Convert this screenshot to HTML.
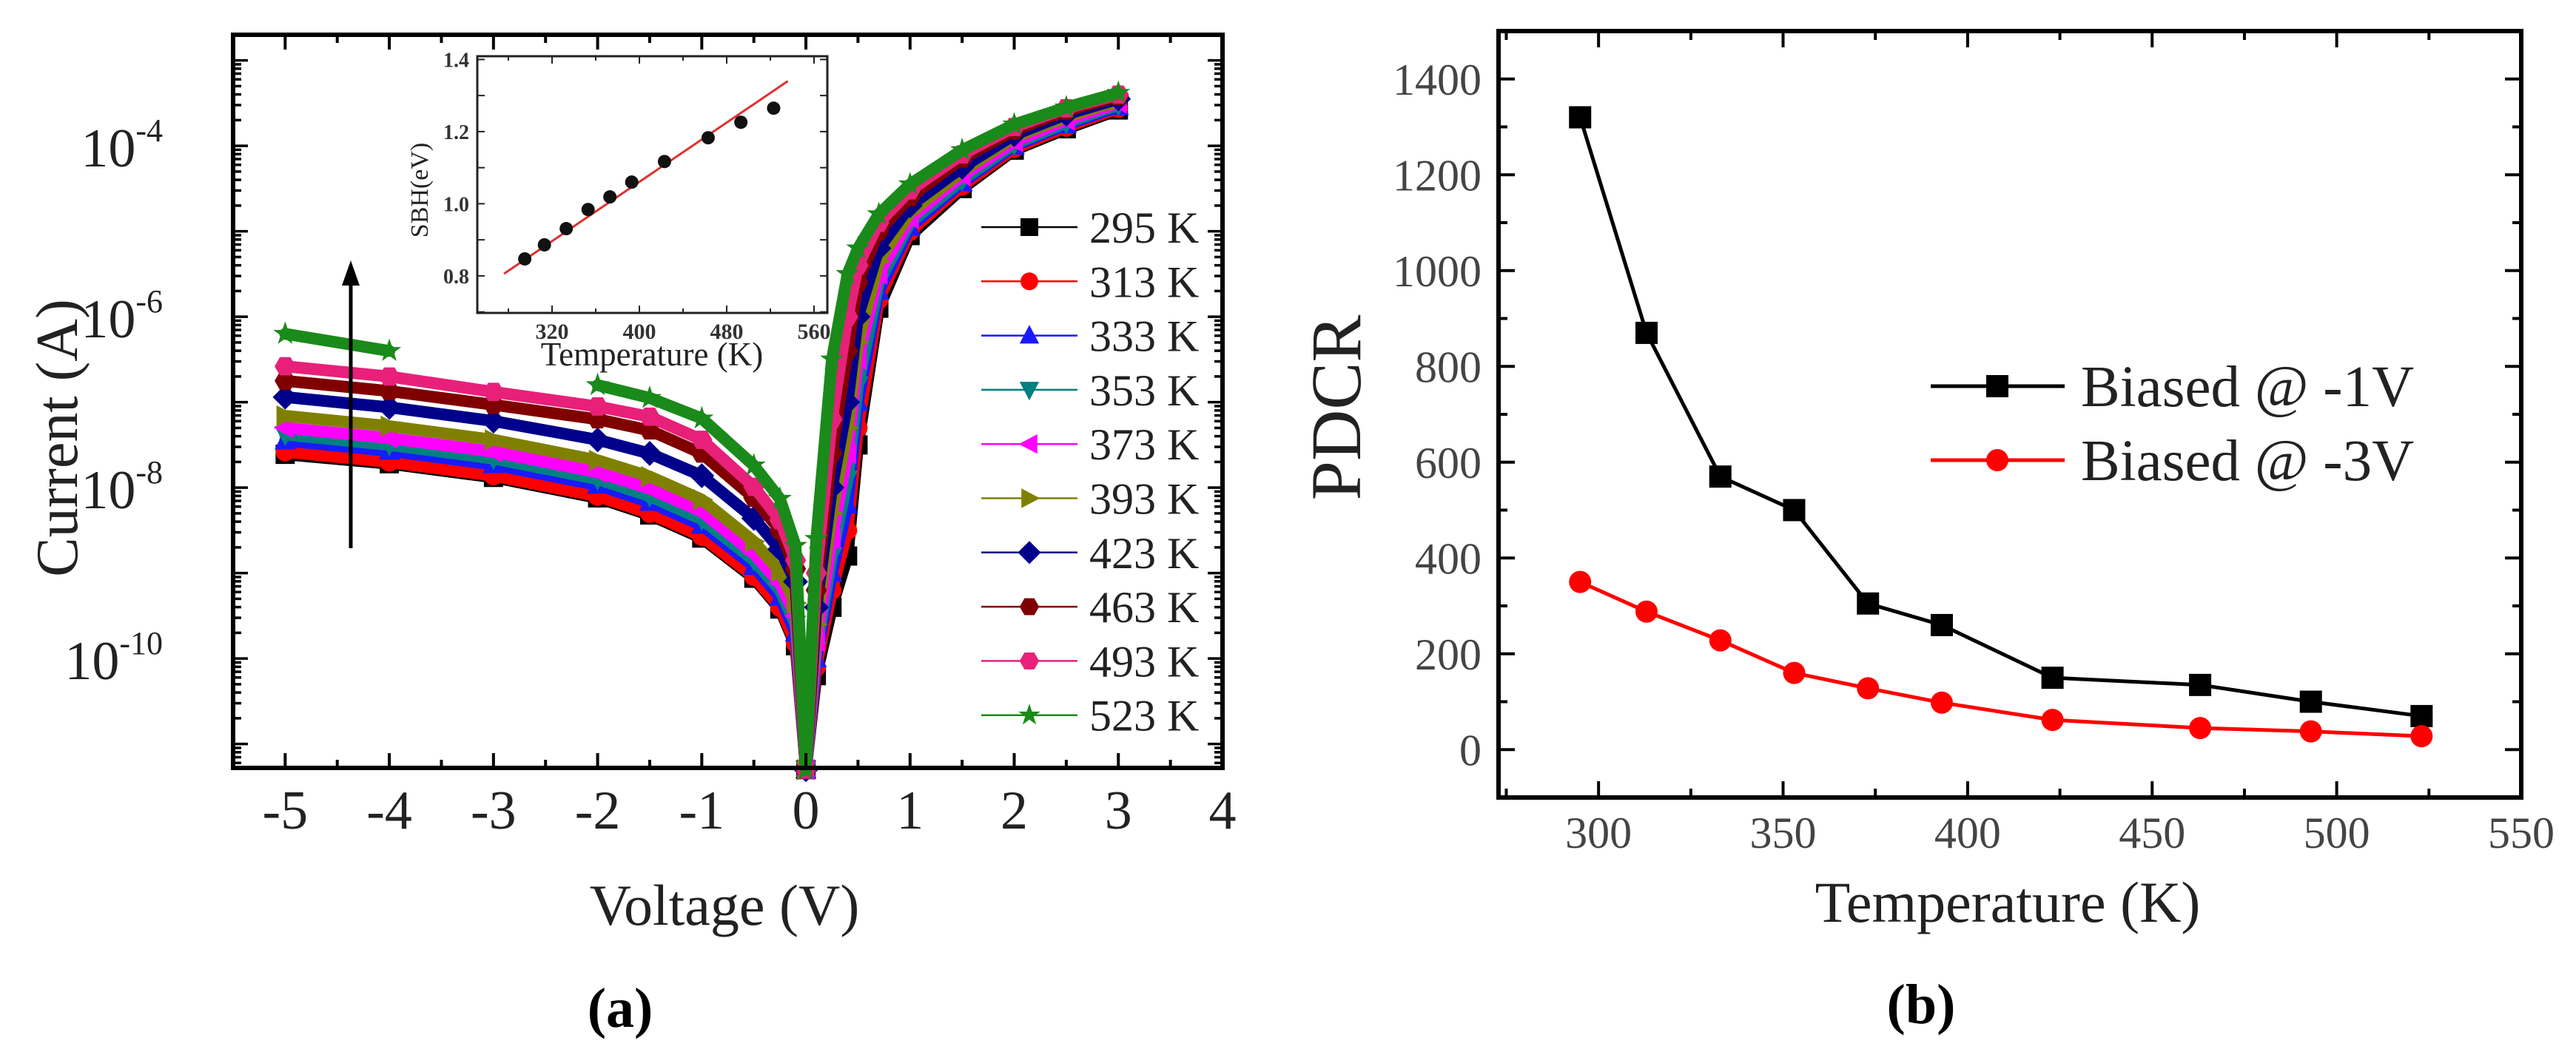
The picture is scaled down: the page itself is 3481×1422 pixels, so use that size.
<!DOCTYPE html>
<html><head><meta charset="utf-8"><style>
html,body{margin:0;padding:0;background:#fff;}
svg{display:block;font-family:"Liberation Serif",serif;}
</style></head><body>
<svg id="fig" width="3481" height="1422" viewBox="0 0 3481 1422">
<g id="left"></g>
<g id="inset"></g>
<g id="right"></g>
</svg>
<script>
// ---------- Panel (a) data ----------
const ivVoltages = [-5,-4,-3,-2,-1.5,-1,-0.5,-0.25,-0.1,0,0.1,0.25,0.4,0.5,0.7,1,1.5,2,2.5,3];
const ivTemps = ["295 K","313 K","333 K","353 K","373 K","393 K","423 K","463 K","493 K","523 K"];
const iv295 = [-7.61,-7.72,-7.88,-8.12,-8.32,-8.59,-9.06,-9.42,-9.85,-11.3,-10.2,-9.4,-8.8,-7.5,-5.9,-5.05,-4.5,-4.05,-3.8,-3.58];
const iv313 = [-7.58,-7.70,-7.86,-8.10,-8.30,-8.57,-9.04,-9.40,-9.82,-11.3,-10.1,-9.2,-8.5,-7.3,-5.8,-5.0,-4.47,-4.03,-3.78,-3.56];
const iv333 = [-7.45,-7.57,-7.73,-7.97,-8.17,-8.44,-8.92,-9.28,-9.7,-11.3,-10.0,-9.0,-8.2,-7.0,-5.7,-4.95,-4.43,-4.0,-3.75,-3.54];
const iv353 = [-7.38,-7.5,-7.66,-7.9,-8.1,-8.37,-8.85,-9.2,-9.6,-11.3,-9.9,-8.8,-7.9,-6.8,-5.6,-4.9,-4.4,-3.98,-3.73,-3.52];
const iv373 = [-7.3,-7.42,-7.58,-7.82,-8.01,-8.28,-8.77,-9.12,-9.5,-11.3,-9.8,-8.6,-7.6,-6.5,-5.5,-4.85,-4.35,-3.95,-3.7,-3.5];
const iv393 = [-7.16,-7.28,-7.44,-7.68,-7.87,-8.14,-8.63,-8.98,-9.35,-11.3,-9.6,-8.3,-7.3,-6.3,-5.35,-4.78,-4.3,-3.9,-3.66,-3.47];
const iv423 = [-6.94,-7.06,-7.22,-7.44,-7.6,-7.86,-8.36,-8.72,-9.1,-11.3,-9.4,-8.0,-7.0,-6.0,-5.2,-4.7,-4.25,-3.87,-3.63,-3.45];
const iv463 = [-6.75,-6.87,-7.03,-7.2,-7.33,-7.6,-8.12,-8.5,-8.95,-11.3,-9.2,-7.6,-6.4,-5.6,-5.0,-4.6,-4.15,-3.82,-3.59,-3.42];
const iv493 = [-6.58,-6.7,-6.88,-7.05,-7.17,-7.44,-7.99,-8.38,-8.85,-11.3,-9.0,-7.2,-6.0,-5.4,-4.9,-4.52,-4.1,-3.78,-3.56,-3.4];
const iv523 = [-6.2,-6.4,null,-6.8,-6.95,-7.19,-7.74,-8.13,-8.68,-11.3,-8.6,-6.5,-5.5,-5.2,-4.8,-4.45,-4.05,-3.75,-3.55,-3.38];
const ivXTicks = [-5,-4,-3,-2,-1,0,1,2,3,4];
const ivYTicks = [-10,-8,-6,-4];
// inset
const sbhTemps = [295,313,333,353,373,393,423,463,493,523];
const sbhValues = [0.847,0.886,0.931,0.984,1.019,1.06,1.117,1.183,1.226,1.265];
const sbhFitT = [276,536];
const sbhFitV = [0.806,1.34];
const sbhXTicks = [320,400,480,560];
const sbhYTicks = [0.8,1.0,1.2,1.4];
// ---------- Panel (b) data ----------
const pdcrTemps = [295,313,333,353,373,393,423,463,493,523];
const pdcrMinus1V = [1320,870,570,500,305,260,150,135,100,70];
const pdcrMinus3V = [350,288,228,160,128,98,62,45,38,28];
const pdcrXTicks = [300,350,400,450,500,550];
const pdcrYTicks = [0,200,400,600,800,1000,1200,1400];

const NS="http://www.w3.org/2000/svg";
function mk(parent,tag,attrs,text){const e=document.createElementNS(NS,tag);for(const k in attrs)e.setAttribute(k,attrs[k]);if(text!==undefined)e.textContent=text;parent.appendChild(e);return e;}

// ===== Panel (a) =====
const L=document.getElementById('left');
const aL=315,aR=1652,aT=47,aB=1038;
const xMinA=-5.5,xMaxA=4, yMinA=-11.28,yMaxA=-2.70;
const xA=v=>aL+(v-xMinA)/(xMaxA-xMinA)*(aR-aL);
const yA=l=>aB-(l-yMinA)/(yMaxA-yMinA)*(aB-aT);
const ivSeries=[iv295,iv313,iv333,iv353,iv373,iv393,iv423,iv463,iv493,iv523];
const ivColors=["#000000","#ff0000","#1a1aff","#008080","#ff00ff","#808000","#00008b","#800000","#e8207a","#1a8a1a"];
const ivShapes=["square","circle","up","down","left","right","diamond","hex","hex","star"];

function marker(g,shape,cx,cy,r,color){
  let e;
  if(shape==="square") e=mk(g,'rect',{x:cx-r,y:cy-r,width:2*r,height:2*r,fill:color});
  else if(shape==="circle") e=mk(g,'circle',{cx:cx,cy:cy,r:r,fill:color});
  else {
    let pts=[];
    if(shape==="up") pts=[[0,-1.2],[1.1,0.9],[-1.1,0.9]];
    else if(shape==="down") pts=[[0,1.2],[1.1,-0.9],[-1.1,-0.9]];
    else if(shape==="left") pts=[[-1.2,0],[0.9,-1.1],[0.9,1.1]];
    else if(shape==="right") pts=[[1.2,0],[-0.9,-1.1],[-0.9,1.1]];
    else if(shape==="diamond") pts=[[0,-1.3],[1.3,0],[0,1.3],[-1.3,0]];
    else if(shape==="hex"){for(let i=0;i<6;i++){const a=Math.PI/3*i;pts.push([Math.cos(a)*1.1,Math.sin(a)*1.1]);}}
    else if(shape==="star"){for(let i=0;i<10;i++){const a=-Math.PI/2+Math.PI/5*i;const rr=i%2?0.5:1.3;pts.push([Math.cos(a)*rr,Math.sin(a)*rr]);}}
    e=mk(g,'polygon',{points:pts.map(p=>(cx+p[0]*r)+','+(cy+p[1]*r)).join(' '),fill:color});
  }
  return e;
}

// series
ivSeries.forEach((s,si)=>{
  const g=mk(L,'g',{});
  
  
  let segs=[],cur=[];
  s.forEach((v,i)=>{ if(v===null){ if(cur.length) segs.push(cur); cur=[]; } else cur.push([xA(ivVoltages[i]),yA(v)]); });
  if(cur.length) segs.push(cur);
  segs.forEach(seg=>{ const p=mk(g,'polyline',{points:seg.map(q=>q.join(',')).join(' '),fill:'none',stroke:ivColors[si],'stroke-width':16,'stroke-linejoin':'round','stroke-linecap':'round'});
      });
  s.forEach((v,i)=>{ if(v===null) return; const m=marker(g,ivShapes[si],xA(ivVoltages[i]),yA(v),13,ivColors[si]);
      });
});

// frame
const fa=mk(L,'rect',{x:aL,y:aT,width:aR-aL,height:aB-aT,fill:'none',stroke:'#000','stroke-width':6});
 
// x ticks
for(let v=-5.5;v<=4.01;v+=0.5){
  const major=Math.abs(v-Math.round(v))<1e-6; const len=major?20:11; const x=xA(v);
  mk(L,'line',{x1:x,y1:aB,x2:x,y2:aB-len,stroke:'#000','stroke-width':4});
  mk(L,'line',{x1:x,y1:aT,x2:x,y2:aT+len,stroke:'#000','stroke-width':4});
}
ivXTicks.forEach(v=>{const t=mk(L,'text',{x:xA(v),y:1120,'font-size':74,'text-anchor':'middle',fill:'#222'},v);
   });
// y ticks (log)
for(let d=-12;d<=-2;d++){
  for(let k=1;k<=9;k++){
    const l=d+Math.log10(k); if(l<yMinA||l>yMaxA) continue;
    const y=yA(l); const len=k===1?20:11;
    mk(L,'line',{x1:aL,y1:y,x2:aL+len,y2:y,stroke:'#000','stroke-width':3.5});
    mk(L,'line',{x1:aR,y1:y,x2:aR-len,y2:y,stroke:'#000','stroke-width':3.5});
  }
}
ivYTicks.forEach(v=>{const t=mk(L,'text',{x:220,y:yA(v)+28,'font-size':74,'text-anchor':'end',fill:'#222'});
  t.appendChild(document.createTextNode('10'));
  const ts=mk(t,'tspan',{dy:-34,'font-size':44},String(v));
   });
let t;
t=mk(L,'text',{x:0,y:0,'font-size':80,'text-anchor':'middle',transform:'translate(104,592) rotate(-90)',fill:'#222'},'Current (A)');
 
t=mk(L,'text',{x:979,y:1250,'font-size':78,'text-anchor':'middle',fill:'#222'},'Voltage (V)');
 
t=mk(L,'text',{x:838,y:1388,'font-size':76,'font-weight':'bold','text-anchor':'middle'},'(a)');
 
// arrow
const ar=mk(L,'g',{});  
mk(ar,'line',{x1:474,y1:741,x2:474,y2:380,stroke:'#000','stroke-width':5});
mk(ar,'polygon',{points:'474,352 462,386 486,386',fill:'#000'});
// legend
ivTemps.forEach((lab,i)=>{
  const y=307+i*73.3;
  const g=mk(L,'g',{});  
  mk(g,'line',{x1:1326,y1:y,x2:1456,y2:y,stroke:ivColors[i],'stroke-width':2.5});
  marker(g,ivShapes[i],1391,y,12,ivColors[i]);
  mk(g,'text',{x:1472,y:y+21,'font-size':60,fill:'#222'},lab);
});

// ===== Inset =====
const I=document.getElementById('inset');
const iL=645,iR=1118,iT=76,iB=423;
const xI=T=>746+(T-320)*(118/80);
const yI=v=>80.4+(1.4-v)*487.5;
mk(I,'rect',{x:iL,y:iT,width:iR-iL,height:iB-iT,fill:'#fff',stroke:'#222','stroke-width':3});
for(let T=280;T<=560;T+=40){const x=xI(T);if(x<iL||x>iR)continue;const len=(T%80===0)?10:6;
  mk(I,'line',{x1:x,y1:iB,x2:x,y2:iB-len,stroke:'#222','stroke-width':2});mk(I,'line',{x1:x,y1:iT,x2:x,y2:iT+len,stroke:'#222','stroke-width':2});}
for(let v=0.7;v<=1.41;v+=0.1){const y=yI(v);const len=10;
  mk(I,'line',{x1:iL,y1:y,x2:iL+len,y2:y,stroke:'#222','stroke-width':2});mk(I,'line',{x1:iR,y1:y,x2:iR-len,y2:y,stroke:'#222','stroke-width':2});}
sbhXTicks.forEach(v=>{const e=mk(I,'text',{x:xI(v),y:458,'font-size':30,'font-weight':'bold','text-anchor':'middle',fill:'#333'},v);
   });
sbhYTicks.forEach(v=>{const e=mk(I,'text',{x:634,y:yI(v)+10,'font-size':28,'font-weight':'bold','text-anchor':'end',fill:'#333'},v.toFixed(1));
   });
const fit=mk(I,'line',{x1:xI(sbhFitT[0]),y1:yI(sbhFitV[0]),x2:xI(sbhFitT[1]),y2:yI(sbhFitV[1]),stroke:'#e03030','stroke-width':3});
 
sbhTemps.forEach((T,i)=>{const c=mk(I,'circle',{cx:xI(T),cy:yI(sbhValues[i]),r:9,fill:'#111'});
   });
t=mk(I,'text',{x:0,y:0,'font-size':34,'text-anchor':'middle',transform:'translate(578,257) rotate(-90)',fill:'#222'},'SBH(eV)');
 
t=mk(I,'text',{x:881,y:494,'font-size':45,'text-anchor':'middle',fill:'#222'},'Temperature (K)');
 

// ===== Panel (b) =====
const R=document.getElementById('right');
const bL=2025,bR=3407,bT=42,bB=1078;
const xMinB=272.9,xMaxB=550,yMinB=-100,yMaxB=1500;
const xB=v=>bL+(v-xMinB)/(xMaxB-xMinB)*(bR-bL);
const yB=v=>bB-(v-yMinB)/(yMaxB-yMinB)*(bB-bT);
const fb=mk(R,'rect',{x:bL,y:bT,width:bR-bL,height:bB-bT,fill:'none',stroke:'#000','stroke-width':6});
 
for(let v=275;v<=550;v+=25){const x=xB(v);const len=(v%50===0)?22:12;
  mk(R,'line',{x1:x,y1:bB,x2:x,y2:bB-len,stroke:'#000','stroke-width':4});mk(R,'line',{x1:x,y1:bT,x2:x,y2:bT+len,stroke:'#000','stroke-width':4});}
for(let v=-100;v<=1500;v+=100){const y=yB(v);const len=(v%200===0)?22:12;
  mk(R,'line',{x1:bL,y1:y,x2:bL+len,y2:y,stroke:'#000','stroke-width':4});mk(R,'line',{x1:bR,y1:y,x2:bR-len,y2:y,stroke:'#000','stroke-width':4});}
pdcrXTicks.forEach(v=>{const e=mk(R,'text',{x:xB(v),y:1146,'font-size':60,'text-anchor':'middle',fill:'#444'},v);
   });
pdcrYTicks.forEach(v=>{const e=mk(R,'text',{x:2002,y:yB(v)+21,'font-size':60,'text-anchor':'end',fill:'#444'},v);
   });
function pdcrSeries(vals,color,shape,name){
  const g=mk(R,'g',{});  
  const p=mk(g,'polyline',{points:pdcrTemps.map((T,i)=>xB(T)+','+yB(vals[i])).join(' '),fill:'none',stroke:color,'stroke-width':5});
   
  pdcrTemps.forEach((T,i)=>{const m=marker(g,shape,xB(T),yB(vals[i]),15,color);
     });
}
pdcrSeries(pdcrMinus1V,'#000','square','series-biased-minus-1v');
pdcrSeries(pdcrMinus3V,'#ff0000','circle','series-biased-minus-3v');
// legend
[['Biased @ -1V','#000','square',522],['Biased @ -3V','#ff0000','circle',622]].forEach(e=>{
  const g=mk(R,'g',{});  
  mk(g,'line',{x1:2609,y1:e[3],x2:2790,y2:e[3],stroke:e[1],'stroke-width':5});
  marker(g,e[2],2699,e[3],15,e[1]);
  mk(g,'text',{x:2812,y:e[3]+27,'font-size':79,fill:'#222'},e[0]);
});
t=mk(R,'text',{x:0,y:0,'font-size':96,'text-anchor':'middle',transform:'translate(1838,551) rotate(-90)',fill:'#222'},'PDCR');
 
t=mk(R,'text',{x:2713,y:1246,'font-size':78,'text-anchor':'middle',fill:'#222'},'Temperature (K)');
 
t=mk(R,'text',{x:2596,y:1383,'font-size':76,'font-weight':'bold','text-anchor':'middle'},'(b)');
 
</script>
</body></html>
